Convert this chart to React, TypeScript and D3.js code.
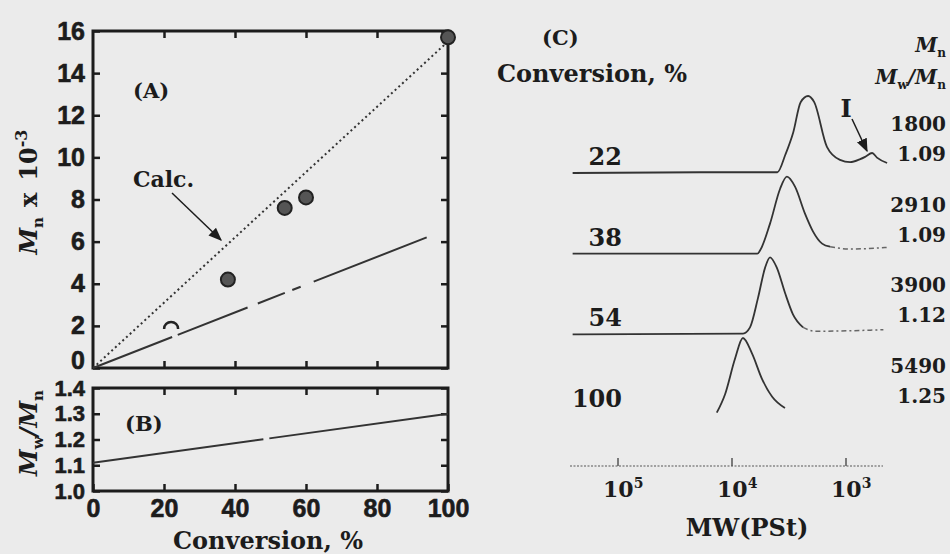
import React, { useEffect, useRef } from "react";
import * as d3 from "d3";

const W = 950;
const H = 554;

// (A) Mn vs conversion
const mnConv = [22, 38, 54, 60, 100];
const mnVals = [2.0, 4.2, 7.6, 8.1, 15.7];
const calcConv = [0, 100];
const calcMn = [0, 15.5];
const fitConv = [0, 94];
const fitMn = [0, 6.2];
// (B) Mw/Mn vs conversion
const pdiConv = [0, 100];
const pdiVals = [1.11, 1.3];
const convTicks = [0, 20, 40, 60, 80, 100];
const mnTicks = [0, 2, 4, 6, 8, 10, 12, 14, 16];
const pdiTicks = [1.0, 1.1, 1.2, 1.3, 1.4];

// (C) GPC traces
const gpcConv = ["22", "38", "54", "100"];
const gpcMn = ["1800", "2910", "3900", "5490"];
const gpcPdi = ["1.09", "1.09", "1.12", "1.25"];
const mw22 = [250000, 19000, 4000, 3400, 2900, 2500, 2150, 1900, 1470, 1130, 920, 750, 680, 590, 535, 436];
const h22 = [0, 0.01, 0.01, 0.24, 0.53, 0.92, 1.0, 0.92, 0.34, 0.17, 0.14, 0.18, 0.21, 0.26, 0.2, 0.13];
const mw38 = [250000, 6000, 5680, 4640, 3790, 3300, 2800, 2290, 1950, 1620, 1380, 920, 440];
const h38 = [0, 0, 0.04, 0.39, 0.84, 1.0, 0.87, 0.52, 0.29, 0.13, 0.09, 0.06, 0.08];
const mw54 = [250000, 8000, 6950, 5920, 5140, 4640, 4030, 3430, 2920, 2380, 1870, 470];
const h54 = [0, 0.01, 0.09, 0.47, 0.86, 1.0, 0.86, 0.54, 0.26, 0.09, 0.04, 0.06];
const mw100 = [13600, 11500, 9410, 8020, 6680, 5460, 4460, 3430];
const h100 = [0.03, 0.27, 0.73, 1.0, 0.8, 0.47, 0.24, 0.09];
const gpcMw = [mw22, mw38, mw54, mw100];
const gpcH = [h22, h38, h54, h100];
const gpcTailFrom = [0, 1380, 2380, 0];
const mwTicks = [1e5, 1e4, 1e3];
const mwExp = ["5", "4", "3"];

const sans = "'Liberation Sans', Arial, sans-serif";
const serif = "'DejaVu Serif', serif";
const ink = "#1c1c1c";

export default function App() {
  const axRef = useRef<SVGGElement>(null);

  const x = d3.scaleLinear().domain([0, 100]).range([93, 448]);
  const yA = d3.scaleLinear().domain([0, 16]).range([368, 31]);
  const yB = d3.scaleLinear().domain([1.0, 1.4]).range([491, 388]);

  const xMw = d3.scaleLog().domain([1e5, 1e3]).range([618, 846]);
  const yBase = d3.scalePoint().domain(gpcConv).range([173, 415]);
  const hY = d3.scaleLinear().domain([0, 1]).range([0, 77]);

  useEffect(() => {
    const root = d3.select(axRef.current);
    root.selectAll("*").remove();
    const style = (size: number) => (g: any) => {
      g.select(".domain").remove();
      g.selectAll("line").attr("stroke", ink).attr("stroke-width", 2.5);
      g.selectAll("text")
        .attr("font-family", sans)
        .attr("font-weight", 700)
        .attr("font-size", size)
        .attr("stroke", ink)
        .attr("stroke-width", 0.6)
        .attr("fill", ink);
    };
    const none = () => "";
    const inner = [20, 40, 60, 80];

    // panel A
    root.append("g").attr("transform", `translate(${x(0)},0)`)
      .call(d3.axisLeft(yA).tickValues(mnTicks).tickSize(-7).tickPadding(8).tickFormat(d3.format("d")))
      .call(style(25))
      .selectAll("text")
      .filter((d: any) => d === 0)
      .attr("dy", "0em");
    root.append("g").attr("transform", `translate(${x(100)},0)`)
      .call(d3.axisRight(yA).tickValues(mnTicks).tickSize(-7).tickFormat(none))
      .call(style(25));
    root.append("g").attr("transform", `translate(0,${yA(16)})`)
      .call(d3.axisTop(x).tickValues(inner).tickSize(-7).tickFormat(none))
      .call(style(25));
    root.append("g").attr("transform", `translate(0,${yA(0)})`)
      .call(d3.axisBottom(x).tickValues(inner).tickSize(-7).tickFormat(none))
      .call(style(25));

    // panel B
    root.append("g").attr("transform", `translate(${x(0)},0)`)
      .call(d3.axisLeft(yB).tickValues(pdiTicks).tickSize(-7).tickPadding(8).tickFormat(d3.format(".1f")))
      .call(style(22));
    root.append("g").attr("transform", `translate(${x(100)},0)`)
      .call(d3.axisRight(yB).tickValues(pdiTicks).tickSize(-7).tickFormat(none))
      .call(style(22));
    root.append("g").attr("transform", `translate(0,${yB(1.4)})`)
      .call(d3.axisTop(x).tickValues(inner).tickSize(-7).tickFormat(none))
      .call(style(22));
    root.append("g").attr("transform", `translate(0,${yB(1.0)})`)
      .call(d3.axisBottom(x).tickValues(convTicks).tickSize(-7).tickPadding(8).tickFormat(d3.format("d")))
      .call(style(25));
  }, []);

  const lineA = d3.line<number>().x((d) => x(d[0])).y((d) => yA(d[1]));
  const lineB = d3.line<number>().x((d) => x(d[0])).y((d) => yB(d[1]));
  const calcPath = lineA(calcConv.map((c, i) => [c, calcMn[i]]) as any);
  const fitPath = lineA(fitConv.map((c, i) => [c, fitMn[i]]) as any);
  const pdiPath = lineB(pdiConv.map((c, i) => [c, pdiVals[i]]) as any);

  const trace = d3.line<[number, number]>().curve(d3.curveMonotoneX);

  return (
    <svg width={W} height={H} style={{ position: "absolute", left: 0, top: 0 }}>
      <defs>
        <marker id="ah" viewBox="0 0 10 10" refX="9" refY="5" markerWidth="9" markerHeight="9" orient="auto">
          <path d="M0,1 L10,5 L0,9 z" fill={ink} />
        </marker>
      </defs>
      <rect width={W} height={H} fill="#ebebeb" />

      {/* frames */}
      <rect x={x(0)} y={yA(16)} width={x(100) - x(0)} height={yA(0) - yA(16)} fill="none" stroke={ink} strokeWidth={3} />
      <rect x={x(0)} y={yB(1.4)} width={x(100) - x(0)} height={yB(1.0) - yB(1.4)} fill="none" stroke={ink} strokeWidth={3} />
      <g ref={axRef} />

      {/* panel A content */}
      <path d={calcPath || ""} fill="none" stroke="#333" strokeWidth={2} strokeDasharray="2 3" />
      <path d={fitPath || ""} fill="none" stroke="#333" strokeWidth={2} strokeDasharray="85 6 75 11 29 8 9 14 200" />
      {mnConv.map((c, i) =>
        i === 0 ? (
          <path key={c} d={`M${x(c) - 7},${yA(mnVals[i]) + 3} A7,7 0 1 1 ${x(c) + 7},${yA(mnVals[i]) + 3}`}
            fill="none" stroke="#222" strokeWidth={2.5} />
        ) : (
          <circle key={c} cx={x(c)} cy={yA(mnVals[i])} r={7} fill="#555" stroke="#222" strokeWidth={2} />
        )
      )}
      <text x={133} y={98} fontFamily={serif} fontWeight={700} fontSize={21} fill={ink}>(A)</text>
      <text x={133} y={187} fontFamily={serif} fontWeight={700} fontSize={22} fill={ink}>Calc.</text>
      <line x1={172} y1={193} x2={221} y2={240} stroke={ink} strokeWidth={1.5} markerEnd="url(#ah)" />

      {/* panel B content */}
      <path d={pdiPath || ""} fill="none" stroke="#333" strokeWidth={2} strokeDasharray="172 6 300" />
      <text x={125} y={431} fontFamily={serif} fontWeight={700} fontSize={21} fill={ink}>(B)</text>

      {/* axis titles, left */}
      <text transform="translate(37,192) rotate(-90)" textAnchor="middle" fontFamily={serif} fontWeight={700} fontSize={24} fill={ink}>
        <tspan fontStyle="italic">M</tspan>
        <tspan fontSize={15} dy={6}>n</tspan>
        <tspan dy={-6} dx={10}>x</tspan>
        <tspan dx={12}>10</tspan>
        <tspan fontSize={16} dy={-10}>-3</tspan>
      </text>
      <text transform="translate(37,433) rotate(-90)" textAnchor="middle" fontFamily={serif} fontWeight={700} fontSize={24} fill={ink}>
        <tspan fontStyle="italic">M</tspan>
        <tspan fontSize={15} dy={6}>w</tspan>
        <tspan dy={-6} fontStyle="italic">/M</tspan>
        <tspan fontSize={15} dy={6}>n</tspan>
      </text>
      <text x={268} y={549} textAnchor="middle" fontFamily={serif} fontWeight={700} fontSize={24} fill={ink}>Conversion, %</text>

      {/* panel C */}
      <text x={542} y={45} fontFamily={serif} fontWeight={700} fontSize={21} fill={ink}>(C)</text>
      <text x={497} y={82} fontFamily={serif} fontWeight={700} fontSize={24} fill={ink}>Conversion, %</text>
      <text x={946} y={52} textAnchor="end" fontFamily={serif} fontWeight={700} fontSize={20} fill={ink}>
        <tspan fontStyle="italic">M</tspan>
        <tspan fontSize={12} dy={5}>n</tspan>
      </text>
      <text x={946} y={84} textAnchor="end" fontFamily={serif} fontWeight={700} fontSize={20} fill={ink}>
        <tspan fontStyle="italic">M</tspan>
        <tspan fontSize={12} dy={5}>w</tspan>
        <tspan fontStyle="italic" dy={-5}>/M</tspan>
        <tspan fontSize={12} dy={5}>n</tspan>
      </text>

      {gpcConv.map((c, i) => {
        const base = yBase(c) as number;
        const pts = gpcMw[i].map((m, j) => [xMw(m), base - hY(gpcH[i][j])] as [number, number]);
        const tail = gpcTailFrom[i];
        const solid = tail ? pts.filter((_, j) => gpcMw[i][j] >= tail) : pts;
        const dashed = tail ? pts.filter((_, j) => gpcMw[i][j] <= tail) : [];
        return (
          <g key={c}>
            <path d={trace(solid) || ""} fill="none" stroke="#333" strokeWidth={1.8} />
            {dashed.length > 1 && (
              <path d={trace(dashed) || ""} fill="none" stroke="#666" strokeWidth={1.5} strokeDasharray="5 3 2 3" />
            )}
            <text x={622} y={base - 8} textAnchor="end" fontFamily={serif} fontWeight={700} fontSize={24} fill={ink}>{c}</text>
            <text x={946} y={base - 42} textAnchor="end" fontFamily={serif} fontWeight={700} fontSize={20} fill={ink}>{gpcMn[i]}</text>
            <text x={946} y={base - 12} textAnchor="end" fontFamily={serif} fontWeight={700} fontSize={20} fill={ink}>{gpcPdi[i]}</text>
          </g>
        );
      })}
      <text x={846} y={117} textAnchor="middle" fontFamily={serif} fontWeight={700} fontSize={24} fill={ink}>I</text>
      <line x1={852} y1={119} x2={867} y2={151} stroke={ink} strokeWidth={1.5} markerEnd="url(#ah)" />

      {/* MW axis */}
      <line x1={570} x2={883} y1={466} y2={466} stroke="#888" strokeWidth={1.5} strokeDasharray="2 1.5" />
      {mwTicks.map((t, i) => (
        <g key={t}>
          <line x1={xMw(t)} x2={xMw(t)} y1={466} y2={458} stroke="#555" strokeWidth={1.5} />
          <text x={xMw(t) - 15} y={497} fontFamily={serif} fontWeight={700} fontSize={22} fill={ink}>
            10<tspan fontSize={14} dy={-9}>{mwExp[i]}</tspan>
          </text>
        </g>
      ))}
      <text x={747} y={536} textAnchor="middle" fontFamily={serif} fontWeight={700} fontSize={24} fill={ink}>MW(PSt)</text>
    </svg>
  );
}
